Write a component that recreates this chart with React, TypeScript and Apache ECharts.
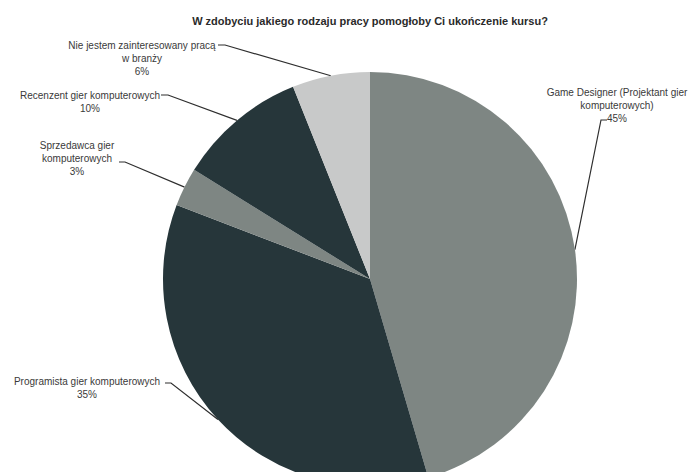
import React, { useEffect, useRef } from "react";
import * as echarts from "echarts";

const TITLE = "W zdobyciu jakiego rodzaju pracy pomogłoby Ci ukończenie kursu?";
const CATEGORIES = [
  "Game Designer (Projektant gier\nkomputerowych)",
  "Programista gier komputerowych",
  "Sprzedawca gier\nkomputerowych",
  "Recenzent gier komputerowych",
  "Nie jestem zainteresowany pracą\nw branży",
];
const VALUES = [45, 35, 3, 10, 6];
const COLORS = ["#7e8683", "#26363a", "#7e8683", "#26363a", "#c8c9c9"];

// label placement (center x, top y) and leader line knee/end points
const LABEL_POS = [
  [617, 86],
  [87, 375],
  [77, 139],
  [90, 89],
  [142, 39],
];
const LINE_KNEE = [
  [[601, 120], [607, 120]],
  [[171, 383], [165, 383]],
  [[125, 162], [119, 162]],
  [[168, 95], [161, 95]],
  [[225, 45], [218, 45]],
];

export default function App() {
  const ref = useRef<HTMLDivElement>(null);
  useEffect(() => {
    if (!ref.current) return;
    const chart = echarts.init(ref.current, null, { renderer: "svg" });
    chart.setOption({
      animation: false,
      backgroundColor: "#ffffff",
      title: {
        text: TITLE,
        left: 365,
        top: 10,
        textAlign: "center",
        textStyle: {
          fontFamily: "Liberation Sans",
          fontSize: 11,
          fontWeight: "bold",
          color: "#2a2a2a",
        },
      },
      series: [
        {
          type: "pie",
          center: [370, 279],
          radius: 207,
          startAngle: 90,
          clockwise: true,
          avoidLabelOverlap: false,
          data: CATEGORIES.map((name, i) => ({
            name,
            value: VALUES[i],
            itemStyle: { color: COLORS[i] },
          })),
          label: {
            show: true,
            position: "outside",
            formatter: "{b}\n{c}%",
            fontFamily: "Liberation Sans",
            fontSize: 10,
            lineHeight: 13,
            color: "#3a3a3a",
            align: "center",
          },
          labelLine: {
            show: true,
            length: 20,
            length2: 10,
            lineStyle: { color: "#2e2e2e", width: 1.2 },
          },
          labelLayout: (params: any) => {
            const i = params.dataIndex;
            const pts = params.labelLinePoints;
            const edge = pts && pts[0] ? pts[0] : [0, 0];
            return {
              x: LABEL_POS[i][0],
              y: LABEL_POS[i][1],
              align: "center",
              verticalAlign: "top",
              labelLinePoints: [edge, LINE_KNEE[i][0], LINE_KNEE[i][1]],
            };
          },
        },
      ],
    });
    return () => chart.dispose();
  }, []);
  return (
    <div
      ref={ref}
      style={{ position: "fixed", left: 0, top: 0, width: 693, height: 472 }}
    />
  );
}
